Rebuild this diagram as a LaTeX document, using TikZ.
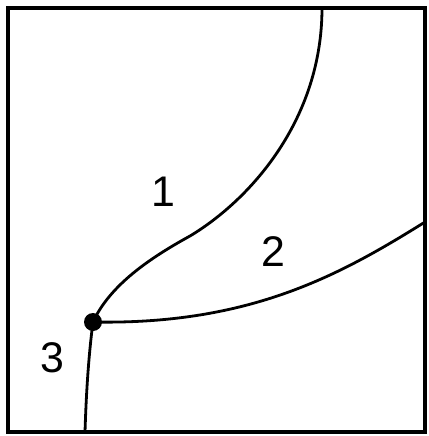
\documentclass[tikz,border=0pt]{standalone}
\usepackage{fontspec}
\setmainfont{Liberation Sans}
\begin{document}
\begin{tikzpicture}[x=1bp, y=-1bp,
  phaseline/.style={line width=2.8bp, line cap=round},
  region/.style={font=\fontsize{43}{43}\selectfont, inner sep=0pt}]
  \useasboundingbox (0,0) rectangle (428,436);

  % Frame
  \draw[line width=3.2bp] (8,8) rectangle (425,432);

  % Triple point
  \node[circle, fill, inner sep=0pt, minimum size=18bp] (tp) at (93,322) {};

  % Ends on the frame
  \coordinate (top) at (322,8);
  \coordinate (right) at (425,222);
  \coordinate (bottom) at (85,432);

  % Phase boundaries
  \draw[phaseline] (tp.center) .. controls (110,285) and (150,258) .. (190,236)
    .. controls (250,200) and (322,120) .. (top);
  \draw[phaseline] (tp.center) .. controls (250,325) and (340,275) .. (right);
  \draw[phaseline] (tp.center) .. controls (88,360) and (86,400) .. (bottom);

  % Regions
  \node[region] (r1) at (163,192) {1};
  \node[region] (r2) at (273,252) {2};
  \node[region] (r3) at (52,358) {3};
\end{tikzpicture}
\end{document}
